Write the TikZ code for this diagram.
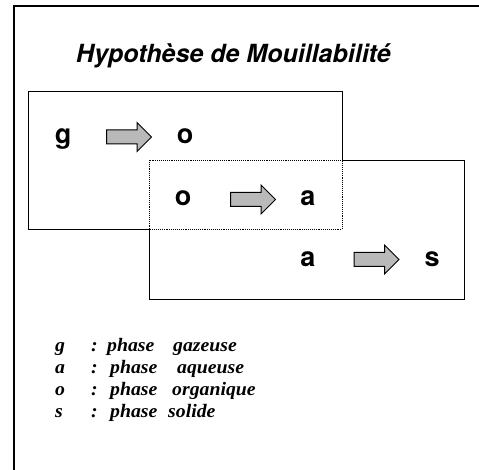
\documentclass[tikz,border=0pt]{standalone}
\usepackage{fontspec}
\setmainfont{Liberation Serif}
\setsansfont{TeX Gyre Heros}
\newfontfamily\legfont[FakeStretch=1.04]{Liberation Serif}
\usetikzlibrary{shapes.arrows}
\tikzset{
  letter/.style={anchor=base, inner sep=0pt, font=\sffamily\bfseries\fontsize{27}{31}\selectfont},
  fatarrow/.style={single arrow, draw=black, line width=1pt, fill=gray!55, minimum height=45pt, inner xsep=0pt, inner ysep=6.5pt, single arrow head extend=7.5pt, single arrow tip angle=90},
  legend/.style={anchor=base west, inner sep=0pt, font=\legfont\bfseries\itshape\fontsize{19}{23}\selectfont},
  boxline/.style={line width=0.9pt},
}
\begin{document}
\begin{tikzpicture}[x=1pt,y=-1pt]
\useasboundingbox (0,0) rectangle (479,470);
% frame
\draw[line width=1.4pt] (14,470) -- (14,6) -- (479,6);
% title
\node[anchor=base west, inner sep=0pt, font=\sffamily\bfseries\itshape\fontsize{25}{30}\selectfont] (title) at (76,63) {Hypothèse de Mouillabilité};
% boxes
\draw[boxline] (342,160) -- (342,91) -- (28,91) -- (28,229) -- (149,229);
\draw[boxline] (149,229) -- (149,299) -- (464,299) -- (464,160) -- (342,160);
\draw[boxline, densely dotted] (149,160) rectangle (342,229);
% row 1
\node[letter] (g1) at (63,144) {g};
\node[fatarrow] (ar1) at (125.5,137) {};
\node[letter] (o1) at (185,144) {o};
% row 2
\node[letter] (o2) at (183,206) {o};
\node[fatarrow] (ar2) at (249.5,199.5) {};
\node[letter] (a2) at (308,206) {a};
% row 3
\node[letter] (a3) at (308,267) {a};
\node[fatarrow] (ar3) at (373,259.5) {};
\node[letter] (s3) at (432,267) {s};
% legend
\node[legend] (lg) at (55,351) {g};
\node[legend] (cg) at (91,351) {:};
\node[legend] (pg) at (107,351) {phase};
\node[legend] (wg) at (173,351) {gazeuse};
\node[legend] (la) at (55,373) {a};
\node[legend] (ca) at (91,373) {:};
\node[legend] (pa) at (110,373) {phase};
\node[legend] (wa) at (177,373) {aqueuse};
\node[legend] (lo) at (55,395) {o};
\node[legend] (co) at (91,395) {:};
\node[legend] (po) at (110,395) {phase};
\node[legend] (wo) at (172,395) {organique};
\node[legend] (ls) at (55,417) {s};
\node[legend] (cs) at (91,417) {:};
\node[legend] (ps) at (110,417) {phase};
\node[legend] (ws) at (168,417) {solide};
\end{tikzpicture}
\end{document}
